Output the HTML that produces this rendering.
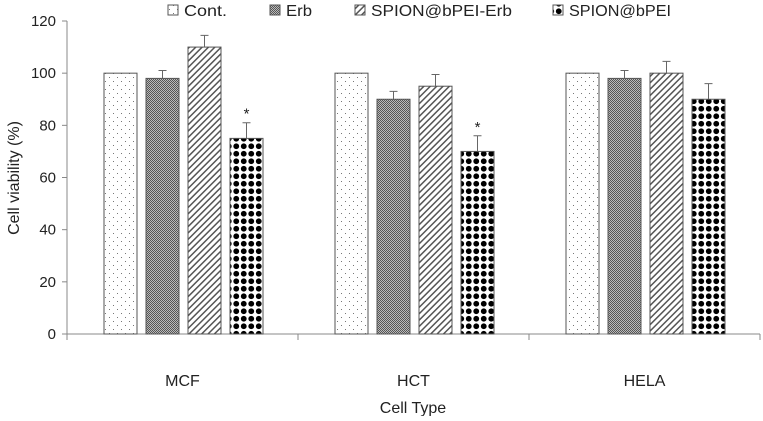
<!DOCTYPE html>
<html><head><meta charset="utf-8"><style>
body{margin:0;background:#fff;font-family:"Liberation Sans",sans-serif}
svg text{font-family:"Liberation Sans",sans-serif;fill:#222}
</style></head><body>
<svg id="c" width="763" height="416">
<defs>
<pattern id="pDot" width="8" height="8" patternUnits="userSpaceOnUse"><rect width="8" height="8" fill="#fff"/><rect x="1" y="1" width="1" height="1" fill="#777"/><rect x="5" y="5" width="1" height="1" fill="#777"/></pattern>
<pattern id="pErb" width="2" height="2" patternUnits="userSpaceOnUse"><rect width="2" height="2" fill="#bbb"/><rect width="1" height="1" fill="#555"/><rect x="1" y="1" width="1" height="1" fill="#555"/></pattern>
<pattern id="pHatch" width="4.5" height="4.5" patternUnits="userSpaceOnUse" patternTransform="rotate(45)"><rect width="4.5" height="4.5" fill="#fff"/><rect width="1.5" height="4.5" fill="#555"/></pattern>
<pattern id="pDia" width="7.5" height="7.5" patternUnits="userSpaceOnUse"><rect width="7.5" height="7.5" fill="#fff"/><circle cx="3.75" cy="3.75" r="2.9" fill="#000"/></pattern>
</defs>
</svg>
<script>
const categories=["MCF","HCT","HELA"];
const seriesNames=["Cont.","Erb","SPION@bPEI-Erb","SPION@bPEI"];
const contVals=[100,100,100];
const erbVals=[98,90,98];
const spionErbVals=[110,95,100];
const spionVals=[75,70,90];
const contErr=[0,0,0];
const erbErr=[3,3,3];
const spionErbErr=[4.5,4.5,4.5];
const spionErr=[6,6,6];
const significant=[true,true,false];
const yTicks=[0,20,40,60,80,100,120];

const svg=document.getElementById('c');
const NS="http://www.w3.org/2000/svg";
const x0=67,x1=760,y0=334,yTop=21,yMax=120;
const y=v=>y0-(v/yMax)*(y0-yTop);
const gw=(x1-x0)/categories.length;
const fills=["url(#pDot)","url(#pErb)","url(#pHatch)","url(#pDia)"];
const vals=[contVals,erbVals,spionErbVals,spionVals];
const errs=[contErr,erbErr,spionErbErr,spionErr];
function mk(t,a,p){const e=document.createElementNS(NS,t);for(const k in a)e.setAttribute(k,a[k]);(p||svg).appendChild(e);return e;}

let ax=mk('line',{x1:x0,y1:y0,x2:x0,y2:yTop,stroke:'#888'});


yTicks.forEach(t=>{
 let l=mk('line',{x1:x0-5,x2:x0,y1:y(t),y2:y(t),stroke:'#888'});
 
 
 let tx=mk('text',{x:x0-11,y:y(t)+5,'text-anchor':'end','font-size':15});
 tx.textContent=t;
 
 
});
let xa=mk('line',{x1:x0,y1:y0,x2:x1,y2:y0,stroke:'#888'});


for(let i=0;i<=categories.length;i++){
 let l=mk('line',{x1:x0+i*gw,x2:x0+i*gw,y1:y0,y2:y0+6,stroke:'#888'});
 
 
}
const bw=33,bstep=42,off=37;
categories.forEach((c,i)=>{
 const gx=x0+i*gw;
 vals.forEach((s,j)=>{
  const bx=gx+off+j*bstep;
  let r=mk('rect',{x:bx,y:y(s[i]),width:bw,height:y0-y(s[i]),fill:fills[j],stroke:'#555','stroke-width':1});
  
  
  const e=errs[j][i];
  if(e>0){
   const cx=bx+bw/2;
   let el=mk('path',{d:`M${cx} ${y(s[i])}V${y(s[i]+e)}M${cx-4} ${y(s[i]+e)}H${cx+4}`,stroke:'#666',fill:'none'});
   
   
  }
  if(j===3&&significant[i]){
   let st=mk('text',{x:bx+bw/2,y:y(s[i]+e)-4,'text-anchor':'middle','font-size':15});
   st.textContent='*';
   
   
  }
 });
 let lb=mk('text',{x:gx+gw/2,y:386,'text-anchor':'middle','font-size':16});
 lb.textContent=c;
 
 
});
let xt=mk('text',{x:413,y:413,'text-anchor':'middle','font-size':16});
xt.textContent='Cell Type';


let yt=mk('text',{x:0,y:0,'text-anchor':'middle','font-size':16,transform:'translate(19,178) rotate(-90)'});
yt.textContent='Cell viability (%)';


const legX=[168,270,355,553];
const legW=[43,26,141,102];
seriesNames.forEach((n,j)=>{
 let g=mk('g',{});
 
 
 mk('rect',{x:legX[j],y:5,width:10,height:10,fill:fills[j],stroke:'#555'},g);
 let t=mk('text',{x:legX[j]+16,y:16,'font-size':16,textLength:legW[j],lengthAdjust:'spacingAndGlyphs'},g);
 t.textContent=n;
});
</script>
</body></html>
